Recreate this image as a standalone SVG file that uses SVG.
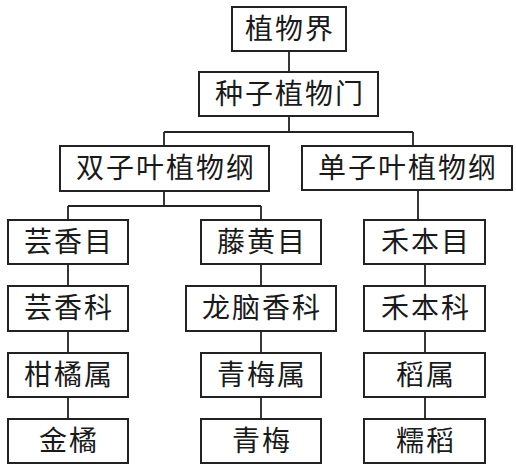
<svg xmlns="http://www.w3.org/2000/svg" width="516" height="471" viewBox="0 0 516 471">
<style>
.b{fill:#fff;stroke:#222;stroke-width:2}
.t{font-family:"Noto Sans CJK SC","Noto Sans CJK TC",sans-serif;font-size:28px;fill:#1a1a1a;text-anchor:middle;letter-spacing:2px}
.c{fill:none;stroke:#222;stroke-width:1.8}
</style>
<rect width="516" height="471" fill="#fff"/>
<g id="connectors" class="c">
<path d="M289 51V72M289 116V132M164 132H413M164 132V146M413 132V146"/>
<path d="M164 191V206M68 206H261M68 206V220M261 206V220M418 191V220"/>
<path d="M68 264V286M68 331V353M68 397V419"/>
<path d="M261 264V286M261 331V353M261 397V419"/>
<path d="M425 264V286M425 331V353M425 397V419"/>
</g>
<g id="n1"><rect class="b" x="232" y="7" width="114" height="44"/><text class="t" x="290" y="39">植物界</text></g>
<g id="n2"><rect class="b" x="199" y="72" width="179" height="44"/><text class="t" x="290" y="104">种子植物门</text></g>
<g id="n3"><rect class="b" x="60" y="146" width="209" height="45"/><text class="t" x="166" y="178">双子叶植物纲</text></g>
<g id="n4"><rect class="b" x="302" y="146" width="210" height="44"/><text class="t" x="408" y="178">单子叶植物纲</text></g>
<g id="n5"><rect class="b" x="8" y="220" width="120" height="44"/><text class="t" x="69" y="252">芸香目</text></g>
<g id="n6"><rect class="b" x="201" y="220" width="120" height="44"/><text class="t" x="262" y="252">藤黄目</text></g>
<g id="n7"><rect class="b" x="364" y="220" width="121" height="44"/><text class="t" x="426" y="252">禾本目</text></g>
<g id="n8"><rect class="b" x="8" y="286" width="120" height="45"/><text class="t" x="69" y="318">芸香科</text></g>
<g id="n9"><rect class="b" x="186" y="286" width="150" height="45"/><text class="t" x="262" y="318">龙脑香科</text></g>
<g id="n10"><rect class="b" x="364" y="286" width="121" height="45"/><text class="t" x="426" y="318">禾本科</text></g>
<g id="n11"><rect class="b" x="8" y="353" width="120" height="44"/><text class="t" x="69" y="385">柑橘属</text></g>
<g id="n12"><rect class="b" x="201" y="353" width="120" height="44"/><text class="t" x="262" y="385">青梅属</text></g>
<g id="n13"><rect class="b" x="364" y="353" width="121" height="44"/><text class="t" x="426" y="385">稻属</text></g>
<g id="n14"><rect class="b" x="8" y="419" width="120" height="44"/><text class="t" x="69" y="451">金橘</text></g>
<g id="n15"><rect class="b" x="201" y="419" width="120" height="44"/><text class="t" x="262" y="451">青梅</text></g>
<g id="n16"><rect class="b" x="364" y="419" width="121" height="44"/><text class="t" x="426" y="451">糯稻</text></g>
</svg>
